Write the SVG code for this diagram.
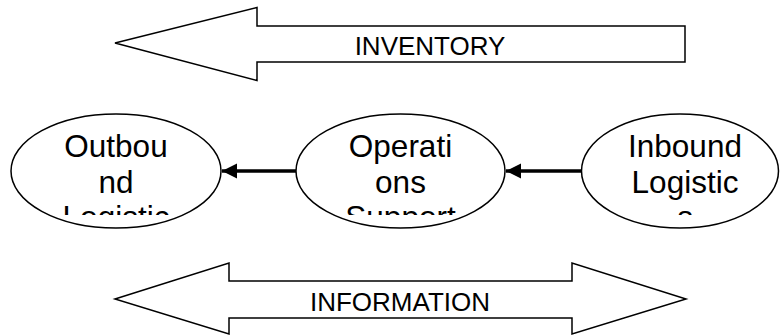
<svg xmlns="http://www.w3.org/2000/svg" width="781" height="336" viewBox="0 0 781 336">
<style>
.shape{fill:#fff;stroke:#000;stroke-width:1.5}
.lbl{font-family:"Liberation Sans",Arial,sans-serif;font-size:26px;fill:#000;text-anchor:middle}
.node{font-family:"Liberation Sans",Arial,sans-serif;font-size:31.5px;fill:#000;text-anchor:middle}
.conn{stroke:#000;stroke-width:3.5;fill:none}
</style>
<defs>
<marker id="ah" markerUnits="userSpaceOnUse" markerWidth="16" markerHeight="16" viewBox="0 0 16 16" refX="15" refY="8" orient="auto">
<path d="M0,0.5 L15,8 L0,15.5 Z" fill="#000"/>
</marker>
<clipPath id="clipText"><rect x="0" y="120" width="781" height="95"/></clipPath>
</defs>
<rect width="781" height="336" fill="#fff"/>
<g id="inventory">
<polygon class="shape" points="115,43 257,7.5 257,26 685,26 685,62 257,62 257,80.5"/>
<text class="lbl" x="430" y="55">INVENTORY</text>
</g>
<g id="information">
<polygon class="shape" points="115,299 229,263 229,281 572,281 572,263 686,299 572,334 572,318 229,318 229,334"/>
<text class="lbl" x="400" y="311">INFORMATION</text>
</g>
<g id="outbound">
<ellipse class="shape" cx="116" cy="171" rx="105" ry="57"/>
<g clip-path="url(#clipText)">
<text class="node" x="116" y="157">Outbou</text>
<text class="node" x="116" y="192.5">nd</text>
<text class="node" x="116" y="228">Logistic</text>
</g>
</g>
<g id="operations">
<ellipse class="shape" cx="400.5" cy="171" rx="104.5" ry="57"/>
<g clip-path="url(#clipText)">
<text class="node" x="400.5" y="157">Operati</text>
<text class="node" x="400.5" y="192.5">ons</text>
<text class="node" x="400.5" y="228">Support</text>
</g>
</g>
<g id="inbound">
<ellipse class="shape" cx="680" cy="171" rx="98.5" ry="57"/>
<g clip-path="url(#clipText)">
<text class="node" x="685" y="157">Inbound</text>
<text class="node" x="685" y="192.5">Logistic</text>
<text class="node" x="685" y="228">s</text>
</g>
</g>
<g id="connectors">
<line class="conn" x1="296" y1="171" x2="222" y2="171" marker-end="url(#ah)"/>
<line class="conn" x1="581" y1="171" x2="506" y2="171" marker-end="url(#ah)"/>
</g>
</svg>
